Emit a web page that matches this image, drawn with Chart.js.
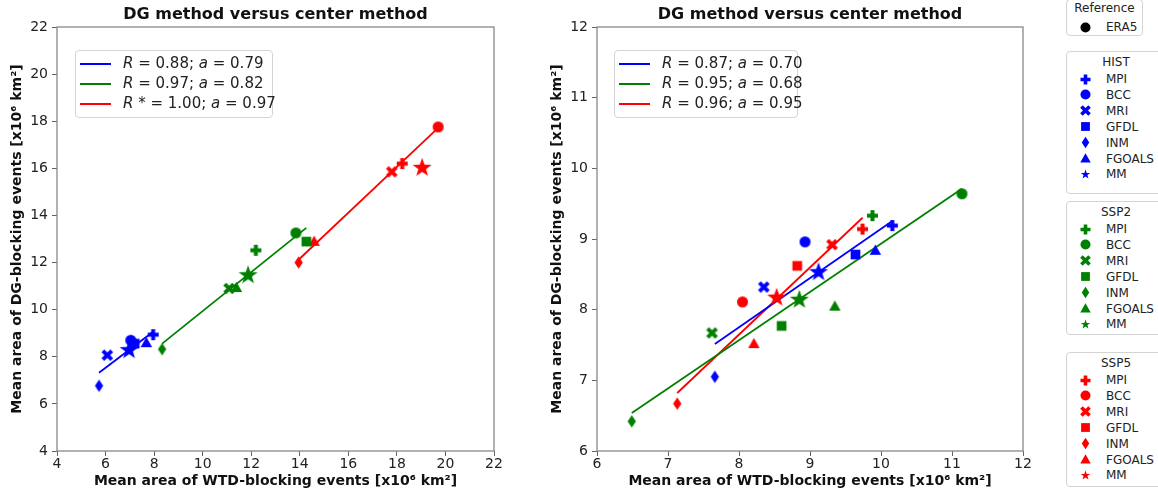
<!DOCTYPE html>
<html>
<head>
<meta charset="utf-8">
<script src="https://cdn.jsdelivr.net/npm/chart.js@4.4.0/dist/chart.umd.min.js"></script>
<style>
  body { margin: 0; width: 1158px; height: 491px; overflow: hidden; position: relative; background: #fff;
         font-family: "DejaVu Sans", sans-serif; color: #222; }
  canvas { position: absolute; top: 0; }
  #left { left: 0; }
  #right { left: 540px; }
  .fitbox { position: absolute; top: 50px; height: 68px; border: 1px solid #d4d4d4; border-radius: 4px;
            background: rgba(255,255,255,0.85); font-size: 15px; box-sizing: border-box; }
  .fitrow { position: absolute; left: 0; right: 0; height: 20px; }
  .fitrow .sample { position: absolute; left: 4px; width: 31px; top: 9px; height: 0; border-top: 2px solid; }
  .fitrow .txt { position: absolute; left: 47px; top: 0px; white-space: nowrap; line-height: 19px; }
  .mbox { position: absolute; left: 1066px; border: 1px solid #d4d4d4; border-radius: 4px; background: #fff;
          font-size: 12px; box-sizing: border-box; }
  .mbox .ttl { position: absolute; left: 0; right: 0; text-align: center; line-height: 14px; }
  .mbox .row { position: absolute; left: 0; height: 14px; line-height: 14px; white-space: nowrap; }
  .mbox .row span { position: absolute; left: 39px; top: 0; }
</style>
</head>
<body>
<canvas id="left" width="506" height="491"></canvas>
<canvas id="right" width="495" height="491"></canvas>
<div id="overlay"></div>
<script>
const models = ['MPI', 'BCC', 'MRI', 'GFDL', 'INM', 'FGOALS', 'MM'];
const shapes = ['plus', 'circle', 'x', 'square', 'diamond', 'triangle', 'star'];
const scenarios = ['HIST', 'SSP2', 'SSP5'];
const colors = ['#0000ff', '#008000', '#ff0000'];

// left panel: mean area of WTD (x) and DG (y) blocking events, per model
const histWtdL = [7.96, 7.04, 6.07, 7.20, 5.73, 7.68, 6.97];
const histDgL  = [8.94, 8.70, 8.07, 8.56, 6.77, 8.60, 8.28];
const ssp2WtdL = [12.19, 13.84, 11.09, 14.27, 8.33, 11.39, 11.87];
const ssp2DgL  = [12.52, 13.26, 10.90, 12.89, 8.32, 10.94, 11.46];
const ssp5WtdL = [18.22, 19.70, 17.79, null, 13.95, 14.59, 19.04];
const ssp5DgL  = [16.20, 17.76, 15.85, null, 12.00, 12.90, 16.02];

// right panel
const histWtdR = [10.16, 8.93, 8.35, 9.64, 7.66, 9.92, 9.12];
const histDgR  = [9.19, 8.96, 8.32, 8.78, 7.05, 8.84, 8.53];
const ssp2WtdR = [9.88, 11.14, 7.62, 8.60, 6.49, 9.35, 8.85];
const ssp2DgR  = [9.33, 9.64, 7.67, 7.77, 6.42, 8.05, 8.14];
const ssp5WtdR = [9.74, 8.05, 9.31, 8.82, 7.13, 8.21, 8.53];
const ssp5DgR  = [9.14, 8.11, 8.92, 8.62, 6.67, 7.52, 8.17];

// fit legend labels
const fitLabelsL = ['<i>R</i> = 0.88; <i>a</i> = 0.79', '<i>R</i> = 0.97; <i>a</i> = 0.82', '<i>R</i> * = 1.00; <i>a</i> = 0.97'];
const fitLabelsR = ['<i>R</i> = 0.87; <i>a</i> = 0.70', '<i>R</i> = 0.95; <i>a</i> = 0.68', '<i>R</i> = 0.96; <i>a</i> = 0.95'];

const xTitle = 'Mean area of WTD-blocking events [x10\u2076 km\u00b2]';
const yTitle = 'Mean area of DG-blocking events [x10\u2076 km\u00b2]';
const chartTitle = 'DG method versus center method';

// marker images, matplotlib-like shapes
function makeMarker(shape, color, s) {
  const c = document.createElement('canvas');
  const n = Math.ceil(s * 1.3) + 2;
  c.width = n; c.height = n;
  const g = c.getContext('2d');
  g.fillStyle = color;
  g.translate(n / 2, n / 2);
  const h = s / 2;
  g.beginPath();
  if (shape === 'circle') {
    g.arc(0, 0, h, 0, Math.PI * 2);
  } else if (shape === 'square') {
    g.rect(-h * 0.88, -h * 0.88, h * 1.76, h * 1.76);
  } else if (shape === 'plus' || shape === 'x') {
    if (shape === 'x') g.rotate(Math.PI / 4);
    const w = h * 0.36, L = shape === 'x' ? h * 1.15 : h;
    g.rect(-w, -L, 2 * w, 2 * L);
    g.rect(-L, -w, 2 * L, 2 * w);
  } else if (shape === 'diamond') {
    g.moveTo(0, -h * 1.15); g.lineTo(h * 0.75, 0); g.lineTo(0, h * 1.15); g.lineTo(-h * 0.75, 0); g.closePath();
  } else if (shape === 'triangle') {
    g.moveTo(0, -h * 1.05); g.lineTo(h * 1.05, h * 0.8); g.lineTo(-h * 1.05, h * 0.8); g.closePath();
  } else if (shape === 'star') {
    for (let i = 0; i < 10; i++) {
      const r = i % 2 === 0 ? h : h * 0.4;
      const a = -Math.PI / 2 + i * Math.PI / 5;
      if (i === 0) g.moveTo(r * Math.cos(a), r * Math.sin(a)); else g.lineTo(r * Math.cos(a), r * Math.sin(a));
    }
    g.closePath();
  }
  g.fill('nonzero');
  return c;
}

// least-squares line over the models (MM excluded), spanning their x range
function fitLine(xs, ys) {
  const px = [], py = [];
  for (let i = 0; i < 6; i++) if (xs[i] != null) { px.push(xs[i]); py.push(ys[i]); }
  const n = px.length;
  const mx = px.reduce((s, v) => s + v, 0) / n;
  const my = py.reduce((s, v) => s + v, 0) / n;
  let sxy = 0, sxx = 0;
  for (let i = 0; i < n; i++) { sxy += (px[i] - mx) * (py[i] - my); sxx += (px[i] - mx) ** 2; }
  const b = sxy / sxx;
  const x0 = Math.min(...px), x1 = Math.max(...px);
  return [{ x: x0, y: my + b * (x0 - mx) }, { x: x1, y: my + b * (x1 - mx) }];
}

function buildDatasets(series) {
  const sets = [];
  series.forEach(([xs, ys], k) => {
    const pts = [], styles = [];
    xs.forEach((x, i) => {
      if (x == null) return;
      pts.push({ x: x, y: ys[i] });
      styles.push(makeMarker(shapes[i], colors[k], shapes[i] === 'star' ? 20 : 11));
    });
    sets.push({ type: 'scatter', data: pts, pointStyle: styles, order: 1 });
    sets.push({ type: 'line', data: fitLine(xs, ys), showLine: true, pointRadius: 0,
                borderColor: colors[k], borderWidth: 1.8, order: 2 });
  });
  return sets;
}

const framePlugin = {
  id: 'frame',
  afterDraw(chart) {
    const { ctx, chartArea: a } = chart;
    ctx.save();
    ctx.strokeStyle = '#888';
    ctx.lineWidth = 1.3;
    ctx.strokeRect(a.left, a.top, a.right - a.left, a.bottom - a.top);
    ctx.fillStyle = '#111';
    ctx.font = 'bold 16px "DejaVu Sans"';
    ctx.textAlign = 'center';
    ctx.textBaseline = 'middle';
    ctx.fillText(chartTitle, (a.left + a.right) / 2, 15);
    ctx.restore();
  }
};

function axis(min, max, step, title, isX) {
  return {
    type: 'linear', min: min, max: max,
    ticks: { stepSize: step, color: '#222', font: { family: 'DejaVu Sans', size: 14 }, padding: isX ? 0 : 4 },
    grid: { display: true, drawOnChartArea: false, drawTicks: true, tickLength: 5, color: '#666' },
    border: { display: false },
    title: { display: true, text: title, color: '#111', font: { family: 'DejaVu Sans', size: 14, weight: 'bold' },
             padding: isX ? { top: 2, bottom: 1 } : { top: 9, bottom: 0 } },
    afterFit: isX ? (s) => { s.height = 40; } : (s) => { s.width = 57; }
  };
}

function makeChart(id, series, xr, yr) {
  new Chart(document.getElementById(id), {
    type: 'scatter',
    data: { datasets: buildDatasets(series) },
    options: {
      responsive: false, animation: false, devicePixelRatio: 1,
      layout: { padding: { left: 0, right: 12, top: 27, bottom: 0 } },
      plugins: { legend: { display: false }, tooltip: { enabled: false }, title: { display: false } },
      scales: { x: axis(xr[0], xr[1], xr[2], xTitle, true), y: axis(yr[0], yr[1], yr[2], yTitle, false) }
    },
    plugins: [framePlugin]
  });
}

makeChart('left', [[histWtdL, histDgL], [ssp2WtdL, ssp2DgL], [ssp5WtdL, ssp5DgL]], [4, 22, 2], [4, 22, 2]);
makeChart('right', [[histWtdR, histDgR], [ssp2WtdR, ssp2DgR], [ssp5WtdR, ssp5DgR]], [6, 12, 1], [6, 12, 1]);

// legends (html)
const overlay = document.getElementById('overlay');
function fitLegend(left, width, labels) {
  const box = document.createElement('div');
  box.className = 'fitbox';
  box.style.left = left + 'px';
  box.style.width = width + 'px';
  labels.forEach((lab, k) => {
    const row = document.createElement('div');
    row.className = 'fitrow';
    row.style.top = (3 + k * 20) + 'px';
    row.innerHTML = '<div class="sample" style="border-color:' + colors[k] + '"></div><div class="txt">' + lab + '</div>';
    box.appendChild(row);
  });
  overlay.appendChild(box);
}
fitLegend(75, 198, fitLabelsL);
fitLegend(614, 184, fitLabelsR);

function markerBox(top, width, height, title, names, color, shapeList) {
  const box = document.createElement('div');
  box.className = 'mbox';
  box.style.top = top + 'px';
  box.style.width = width + 'px';
  box.style.height = height + 'px';
  box.innerHTML = '<div class="ttl" style="top:' + (title === 'Reference' ? 1 : 3) + 'px">' + title + '</div>';
  names.forEach((name, i) => {
    const row = document.createElement('div');
    row.className = 'row';
    row.style.top = (title === 'Reference' ? 20 : 20 + i * 15.9) + 'px';
    const img = makeMarker(shapeList[i], color, 10);
    img.style.position = 'absolute';
    img.style.left = (18 - img.width / 2) + 'px';
    img.style.top = (7 - img.height / 2) + 'px';
    row.appendChild(img);
    const sp = document.createElement('span');
    sp.textContent = name;
    row.appendChild(sp);
    box.appendChild(row);
  });
  overlay.appendChild(box);
}
markerBox(-1, 77, 37, 'Reference', ['ERA5'], '#000', ['circle']);
markerBox(51, 100, 143, scenarios[0], models, colors[0], shapes);
markerBox(201, 100, 134, scenarios[1], models, colors[1], shapes);
markerBox(352, 100, 135, scenarios[2], models, colors[2], shapes);
</script>
</body>
</html>
